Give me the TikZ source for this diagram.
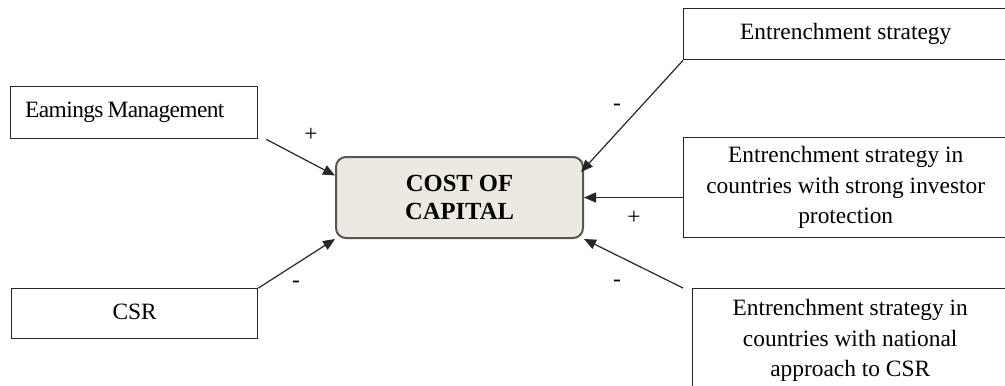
\documentclass[tikz,border=0pt]{standalone}
\usepackage{fontspec}
\setmainfont{Liberation Serif}
\usepackage{tikz}
\usetikzlibrary{shapes,arrows.meta}

\definecolor{capfill}{HTML}{ECEAE0}
\definecolor{capline}{HTML}{555555}

\begin{document}
\begin{tikzpicture}[x=0.5pt,y=-0.5pt,
        font=\fontsize{11.7}{15.3}\selectfont,
        box/.style={draw=black!85,line width=0.7pt,rectangle,inner sep=0pt,anchor=north west,align=center},
        rel/.style={-{Triangle[length=6pt,width=5pt]},line width=0.6pt,black!85},
        sign/.style={inner sep=0pt}]
        \useasboundingbox (0,0) rectangle (1005,385);
        \node[box,minimum width=123.5pt,minimum height=26pt,text width=115pt,align=left] (em) at (10,86) {\raisebox{2.5pt}{\hspace*{3pt}\addfontfeature{LetterSpace=-2.5}Eamings\hspace{2pt}Management}};
        \node[box,minimum width=123pt,minimum height=25pt] (csr) at (11,288) {\raisebox{1.5pt}{CSR}};
        \node[draw=capline,fill=capfill,line width=1pt,rounded corners=5pt,minimum width=123.5pt,minimum height=40.5pt,align=center,font=\fontsize{12.3}{14}\selectfont\bfseries] (cc) at (459.5,197.5) {COST OF\\CAPITAL};
        \node[box,minimum width=162pt,minimum height=25.5pt] (es) at (683,8) {\raisebox{2.5pt}{Entrenchment strategy}};
        \node[box,minimum width=162pt,minimum height=50pt] (esip) at (683,137) {Entrenchment strategy in\\countries with strong investor\\protection};
        \node[box,minimum width=157.5pt,minimum height=52pt] (esna) at (692,288) {Entrenchment strategy in\\countries with national\\approach to CSR};
        \draw[rel] ([xshift=4pt]em.south east) -- ([yshift=11pt]cc.west);
        \draw[rel] (csr.north east) -- (cc.south west);
        \draw[rel] (es.south west) -- ([xshift=-1.5pt,yshift=-8pt]cc.north east);
        \draw[rel] (esip.west |- cc.east) -- (cc.east);
        \draw[rel] ([xshift=-4.5pt]esna.north west) -- (cc.south east);
        \node[sign] (s1) at (311,135) {+};
        \node[sign] (s2) at (296,284) {-};
        \node[sign] (s3) at (617,107) {-};
        \node[sign] (s4) at (634,218) {+};
        \node[sign] (s5) at (617,283) {-};
    \end{tikzpicture}
\end{document}
